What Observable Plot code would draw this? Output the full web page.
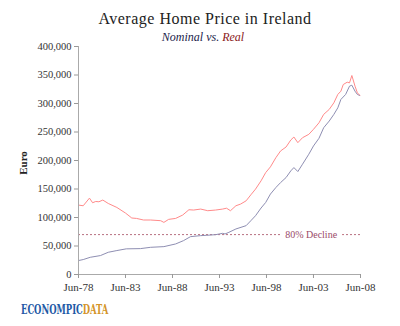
<!DOCTYPE html>
<html>
<head>
<meta charset="utf-8">
<script src="https://cdn.jsdelivr.net/npm/d3@7"></script>
<script src="https://cdn.jsdelivr.net/npm/@observablehq/plot@0.6"></script>
<style>
  body { margin: 0; background: #fff; }
  #wrap { position: relative; width: 400px; height: 326px; overflow: hidden; font-family: "Liberation Serif", serif; }
  #title { position: absolute; top: 10px; left: 0; width: 410px; text-align: center; font-size: 16px; color: #222; letter-spacing: 0.5px; }
  #subtitle { position: absolute; top: 30px; left: 0; width: 406px; text-align: center; font-size: 12px; font-style: italic; color: #1c1c4a; }
  #subtitle .real { color: #8b1a1a; }
  #chart { position: absolute; top: 40px; left: 0; }
  #ylabel { position: absolute; left: 23px; top: 163px; transform: translate(-50%, -50%) rotate(-90deg); font-size: 11px; font-weight: bold; color: #222; }
  #logo { position: absolute; left: 21px; top: 303px; font-family: "DejaVu Serif", serif; font-stretch: condensed; font-weight: bold; font-size: 12px; transform: scaleX(0.78); transform-origin: left center; white-space: nowrap; }
  #logo .b { color: #1f5aa6; }
  #logo .o { color: #d4952a; }
</style>
</head>
<body>
<div id="wrap">
  <div id="title"></div>
  <div id="subtitle"></div>
  <div id="chart"></div>
  <div id="ylabel"></div>
  <div id="logo"><span class="b">ECONOMPIC</span><span class="o">DATA</span></div>
</div>
<script>
const titleText = "Average Home Price in Ireland";
const subtitleNominal = "Nominal";
const subtitleVs = " vs. ";
const subtitleReal = "Real";
const yAxisLabel = "Euro";

const realDates = ["1978-06","1978-12","1979-08","1979-12","1980-04","1980-08","1981-01","1981-08","1982-07","1983-06","1984-02","1984-08","1985-05","1986-02","1987-03","1987-07","1988-01","1988-10","1989-07","1990-03","1990-09","1991-06","1992-03","1993-01","1993-10","1994-03","1994-08","1995-03","1995-09","1996-04","1996-10","1997-04","1997-11","1998-05","1998-11","1999-06","1999-12","2000-07","2001-01","2001-05","2001-10","2002-04","2002-12","2003-06","2004-01","2004-07","2005-02","2005-08","2006-01","2006-05","2006-08","2007-01","2007-04","2007-07","2007-11","2008-02","2008-05"];
const realValues = [121800,120600,134000,125900,128100,127600,130600,124600,117600,107800,99100,98400,95600,95600,94400,91400,96700,98400,104300,113600,113100,114800,111900,113100,114800,116300,111900,120600,123600,129300,139800,149800,164300,178800,188800,205000,216800,223700,236000,241200,231300,240000,245900,254700,266200,280900,289600,301200,315900,321600,333300,337400,336200,349100,330400,318700,314600];

const nominalDates = ["1978-06","1978-12","1979-09","1980-10","1981-08","1982-07","1983-07","1985-01","1986-02","1987-07","1988-10","1989-08","1990-05","1991-06","1992-01","1993-01","1993-10","1994-01","1994-06","1995-03","1996-04","1996-10","1997-04","1997-11","1998-05","1998-11","1999-06","1999-12","2000-07","2001-01","2001-05","2001-10","2002-04","2002-12","2003-06","2004-01","2004-07","2005-02","2005-08","2006-01","2006-05","2006-11","2007-04","2007-07","2007-11","2008-02","2008-05"];
const nominalValues = [24500,26200,30200,33200,39000,42000,45000,45400,47700,48900,53600,59400,66400,68200,68700,69900,72200,71100,74000,79900,85700,94400,103100,116600,126400,141100,152600,161300,170100,181800,187600,180600,193500,211000,225500,239000,257500,269200,280900,292400,307100,315900,330400,332100,321600,315900,314100];

const yTicks = [0,50000,100000,150000,200000,250000,300000,350000,400000];
const xTickDates = ["1978-06","1983-06","1988-06","1993-06","1998-06","2003-06","2008-06"];
const xDomain = ["1978-06","2008-06"];

const declineLevel = 70000;
const declineLabel = "80% Decline";
const declineLabelDate = "2003-03";

const parse = d3.utcParse("%Y-%m");
const real = realDates.map((d, i) => ({date: parse(d), value: realValues[i]}));
const nominal = nominalDates.map((d, i) => ({date: parse(d), value: nominalValues[i]}));

document.getElementById("title").textContent = titleText;
const sub = document.getElementById("subtitle");
sub.innerHTML = "";
sub.append(subtitleNominal + subtitleVs);
const r = document.createElement("span"); r.className = "real"; r.textContent = subtitleReal; sub.append(r);
document.getElementById("ylabel").textContent = yAxisLabel;

const chart = Plot.plot({
  width: 400,
  height: 262,
  marginLeft: 78,
  marginRight: 40,
  marginTop: 6,
  marginBottom: 28,
  style: {fontFamily: "Liberation Serif", background: "transparent", color: "#333"},
  x: {type: "utc", domain: xDomain.map(parse)},
  y: {domain: [0, 400000]},
  marks: [
    Plot.ruleY([declineLevel], {stroke: "#b87080", strokeDasharray: "2,2", strokeWidth: 1}),
    Plot.text([{date: parse(declineLabelDate), value: declineLevel, label: declineLabel}], {
      x: "date", y: "value", text: "label", fill: "#9a4a68", fontSize: 10,
      stroke: "white", strokeWidth: 10
    }),
    Plot.line(nominal, {x: "date", y: "value", stroke: "#8e8eb2", strokeWidth: 1}),
    Plot.line(real, {x: "date", y: "value", stroke: "#ff8a8a", strokeWidth: 1}),
    Plot.ruleY([0], {stroke: "#aaa"}),
    Plot.ruleX([parse(xDomain[0])], {y1: 0, y2: 400000, stroke: "#aaa"}),
    Plot.axisY({ticks: yTicks, tickFormat: d3.format(","), tickSize: 4, tickPadding: 3, fontSize: 10.5, stroke: "#999", fill: "#333", label: null}),
    Plot.axisX({ticks: xTickDates.map(parse), tickFormat: d3.utcFormat("%b-%y"), tickSize: 4, tickPadding: 5, fontSize: 11, stroke: "#999", fill: "#333", label: null})
  ]
});
document.getElementById("chart").append(chart);
</script>
</body>
</html>
